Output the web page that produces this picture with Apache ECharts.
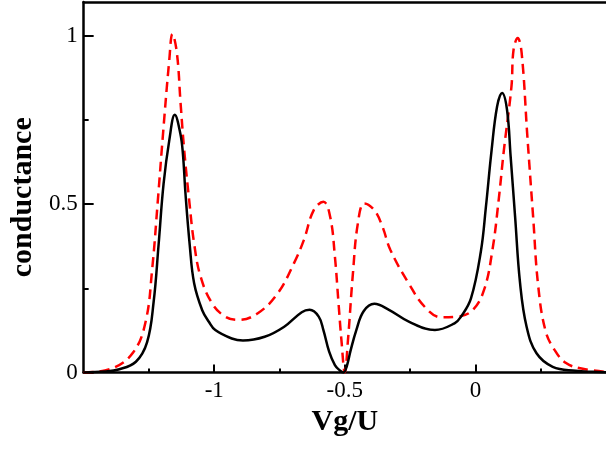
<!DOCTYPE html>
<html>
<head>
<meta charset="utf-8">
<script src="https://cdn.jsdelivr.net/npm/echarts@6/dist/echarts.min.js"></script>
<style>
  html, body { margin: 0; padding: 0; background: #fff; }
  #chart { width: 606px; height: 452px; }
</style>
</head>
<body>
<div id="chart"></div>
<script>
// solid black curve
var blackX = [-1.5, -1.42, -1.367, -1.3, -1.257, -1.232, -1.213, -1.194, -1.172, -1.151, -1.13, -1.12, -1.11, -1.094, -1.077,
  -1.046, -1.02, -0.996, -0.933, -0.89, -0.807, -0.732, -0.665, -0.635, -0.6, -0.582, -0.56, -0.538, -0.519, -0.505,
  -0.492, -0.478, -0.456, -0.428, -0.387, -0.331, -0.255, -0.155, -0.08, -0.055, -0.017, 0.021, 0.04, 0.062, 0.083,
  0.102, 0.121, 0.135, 0.152, 0.171, 0.196, 0.234, 0.296, 0.384, 0.45, 0.5];
var blackY = [0.0, 0.003, 0.009, 0.032, 0.09, 0.21, 0.38, 0.56, 0.69, 0.765, 0.71, 0.65, 0.53, 0.38, 0.265,
  0.185, 0.15, 0.126, 0.101, 0.095, 0.106, 0.136, 0.179, 0.186, 0.166, 0.126, 0.062, 0.022, 0.006, 0.0,
  0.02, 0.065, 0.126, 0.182, 0.204, 0.186, 0.151, 0.126, 0.146, 0.166, 0.22, 0.36, 0.49, 0.66, 0.79,
  0.83, 0.78, 0.64, 0.462, 0.265, 0.136, 0.057, 0.017, 0.005, 0.002, 0.001];

// dashed red curve
var redX = [-1.5, -1.392, -1.31, -1.263, -1.238, -1.216, -1.197, -1.172, -1.16, -1.143, -1.129, -1.115, -1.096, -1.077, -1.052,
  -1.008, -0.958, -0.908, -0.833, -0.757, -0.695, -0.657, -0.619, -0.582, -0.556, -0.538, -0.525, -0.513, -0.5, -0.488,
  -0.469, -0.45, -0.425, -0.387, -0.356, -0.325, -0.255, -0.193, -0.13, -0.067, -0.011, 0.033, 0.065, 0.089, 0.109,
  0.138, 0.146, 0.162, 0.177, 0.199, 0.221, 0.24, 0.268, 0.303, 0.347, 0.411, 0.5];
var redY = [0.0, 0.012, 0.06, 0.15, 0.304, 0.51, 0.7, 0.929, 1.005, 0.949, 0.801, 0.66, 0.512, 0.383, 0.284,
  0.205, 0.166, 0.156, 0.176, 0.235, 0.324, 0.393, 0.482, 0.507, 0.462, 0.344, 0.215, 0.096, 0.0, 0.096,
  0.294, 0.443, 0.502, 0.482, 0.433, 0.363, 0.264, 0.194, 0.164, 0.166, 0.185, 0.245, 0.363, 0.512, 0.66,
  0.849, 0.958, 0.993, 0.949, 0.7, 0.462, 0.26, 0.125, 0.067, 0.028, 0.011, 0.002];

var xMajor = [-1, -0.5, 0];
var xMinor = [-1.25, -0.75, -0.25, 0.25];
var yMajor = [0, 0.5, 1];
var yMinor = [0.25, 0.75];

function zip(xs, ys) {
  return xs.map(function (x, i) { return [x, ys[i]]; });
}

var chart = echarts.init(document.getElementById('chart'));
var font = '"Liberation Serif", "Times New Roman", serif';
var axisColor = '#000';

var option = {
  animation: false,
  backgroundColor: '#fff',
  grid: { left: 77, top: 2, width: 531, height: 370.5 },
  xAxis: [
    {
      type: 'value', min: -1.5, max: 0.5, position: 'bottom',
      name: 'Vg/U', nameLocation: 'middle', nameGap: 34,
      nameTextStyle: { fontFamily: font, fontSize: 30, fontWeight: 'bold', color: '#000' },
      axisLine: { onZero: false, lineStyle: { color: axisColor, width: 2.5 } },
      axisTick: { inside: true, length: 8, customValues: xMajor, lineStyle: { color: axisColor, width: 2 } },
      axisLabel: { customValues: xMajor, margin: 7, fontFamily: font, fontSize: 23, color: '#000',
        formatter: function (v) { return String(v); } },
      splitLine: { show: false }
    },
    {
      type: 'value', min: -1.5, max: 0.5, position: 'bottom',
      axisLine: { show: false, onZero: false },
      axisTick: { inside: true, length: 4, customValues: xMinor, lineStyle: { color: axisColor, width: 2 } },
      axisLabel: { show: false },
      splitLine: { show: false }
    },
    {
      type: 'value', min: -1.5, max: 0.5, position: 'top',
      axisLine: { onZero: false, lineStyle: { color: axisColor, width: 2.5 } },
      axisTick: { show: false },
      axisLabel: { show: false },
      splitLine: { show: false }
    }
  ],
  yAxis: [
    {
      type: 'value', min: 0, max: 1.1, position: 'left',
      name: 'conductance', nameLocation: 'middle', nameGap: 44,
      nameTextStyle: { fontFamily: font, fontSize: 30, fontWeight: 'bold', color: '#000', padding: [0, 20, 0, 0] },
      axisLine: { onZero: false, lineStyle: { color: axisColor, width: 2.5 } },
      axisTick: { inside: true, length: 10, customValues: yMajor, lineStyle: { color: axisColor, width: 2 } },
      axisLabel: { customValues: yMajor, margin: 6, fontFamily: font, fontSize: 23, color: '#000',
        formatter: function (v) { return String(v); } },
      splitLine: { show: false }
    },
    {
      type: 'value', min: 0, max: 1.1, position: 'left',
      axisLine: { show: false, onZero: false },
      axisTick: { inside: true, length: 5, customValues: yMinor, lineStyle: { color: axisColor, width: 2 } },
      axisLabel: { show: false },
      splitLine: { show: false }
    }
  ],
  series: [
    {
      type: 'line', name: 'red', data: zip(redX, redY),
      smooth: 0.4, showSymbol: false,
      lineStyle: { color: '#ff0000', width: 2.5, type: [10, 6] }
    },
    {
      type: 'line', name: 'black', data: zip(blackX, blackY),
      smooth: 0.4, showSymbol: false,
      lineStyle: { color: '#000', width: 2.5 }
    }
  ]
};

chart.setOption(option);
</script>
</body>
</html>
